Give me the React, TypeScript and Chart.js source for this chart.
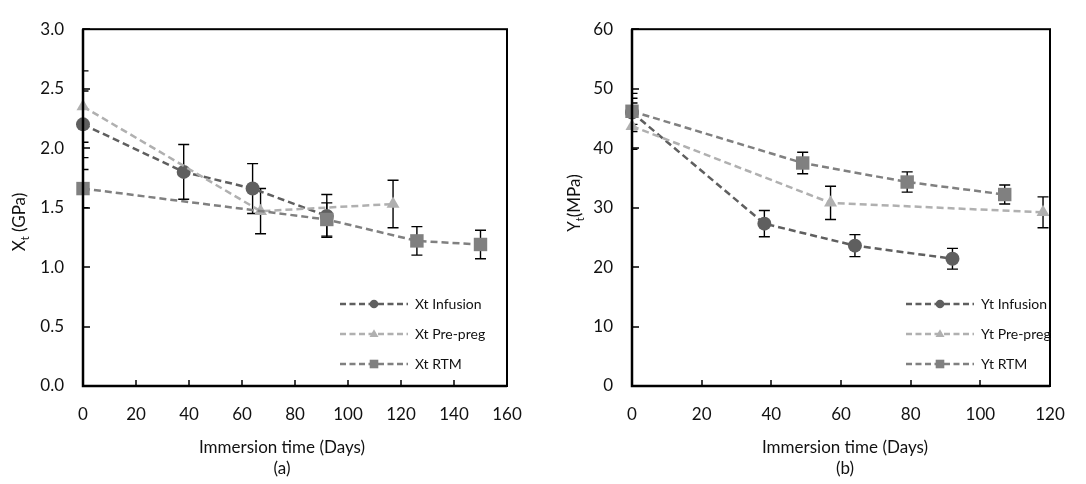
import React, { useEffect, useRef } from "react";
import { Chart, registerables } from "chart.js";

Chart.register(...registerables);

// ---------- Panel (a): Xt (GPa) ----------
const xtInfusionDays = [0, 38, 64, 92];
const xtInfusion = [2.2, 1.8, 1.66, 1.43];
const xtInfusionErr = [0.28, 0.23, 0.21, 0.18];

const xtPrepregDays = [0, 67, 117];
const xtPrepreg = [2.35, 1.47, 1.53];
const xtPrepregErr = [0.3, 0.19, 0.2];

const xtRtmDays = [0, 92, 126, 150];
const xtRtm = [1.66, 1.4, 1.22, 1.19];
const xtRtmErr = [0.16, 0.14, 0.12, 0.12];

const xtTicks = [0, 0.5, 1.0, 1.5, 2.0, 2.5, 3.0];
const xtDayTicks = [0, 20, 40, 60, 80, 100, 120, 140, 160];

// ---------- Panel (b): Yt (MPa) ----------
const ytInfusionDays = [0, 38, 64, 92];
const ytInfusion = [46.0, 27.3, 23.6, 21.4];
const ytInfusionErr = [3.2, 2.2, 1.85, 1.75];

const ytPrepregDays = [0, 57, 118];
const ytPrepreg = [43.7, 30.8, 29.2];
const ytPrepregErr = [3.9, 2.8, 2.6];

const ytRtmDays = [0, 49, 79, 107];
const ytRtm = [46.2, 37.5, 34.3, 32.2];
const ytRtmErr = [2.2, 1.8, 1.7, 1.6];

const ytTicks = [0, 10, 20, 30, 40, 50, 60];
const ytDayTicks = [0, 20, 40, 60, 80, 100, 120];

const xAxisTitle = "Immersion time (Days)";

const FONT = "Lato, 'Open Sans', sans-serif";
const TEXT = "#111";
const C_INF = "#5f5f5f";
const C_PRE = "#b0b0b0";
const C_RTM = "#808080";

type Series = {
  label: string;
  days: number[];
  values: number[];
  errors: number[];
  color: string;
  style: "circle" | "triangle" | "rect";
};

type Panel = {
  series: Series[];
  yTicks: number[];
  xTicks: number[];
  yDecimals: number;
  yTitleMain: string;
  yTitleSub: string;
  yTitleRest: string;
  caption: string;
  // layout
  width: number;
  areaLeft: number;
  areaRight: number;
  yTitleX: number;
  yTitleY: number;
  xTitleX: number;
  legendX: number;
};

const panels: Panel[] = [
  {
    series: [
      { label: "Xt Infusion", days: xtInfusionDays, values: xtInfusion, errors: xtInfusionErr, color: C_INF, style: "circle" },
      { label: "Xt Pre-preg", days: xtPrepregDays, values: xtPrepreg, errors: xtPrepregErr, color: C_PRE, style: "triangle" },
      { label: "Xt RTM", days: xtRtmDays, values: xtRtm, errors: xtRtmErr, color: C_RTM, style: "rect" },
    ],
    yTicks: xtTicks,
    xTicks: xtDayTicks,
    yDecimals: 1,
    yTitleMain: "X",
    yTitleSub: "t",
    yTitleRest: " (GPa)",
    caption: "(a)",
    width: 543,
    areaLeft: 83,
    areaRight: 507,
    yTitleX: 20,
    yTitleY: 222,
    xTitleX: 282,
    legendX: 340,
  },
  {
    series: [
      { label: "Yt Infusion", days: ytInfusionDays, values: ytInfusion, errors: ytInfusionErr, color: C_INF, style: "circle" },
      { label: "Yt Pre-preg", days: ytPrepregDays, values: ytPrepreg, errors: ytPrepregErr, color: C_PRE, style: "triangle" },
      { label: "Yt RTM", days: ytRtmDays, values: ytRtm, errors: ytRtmErr, color: C_RTM, style: "rect" },
    ],
    yTicks: ytTicks,
    xTicks: ytDayTicks,
    yDecimals: 0,
    yTitleMain: "Y",
    yTitleSub: "t",
    yTitleRest: "(MPa)",
    caption: "(b)",
    width: 543,
    areaLeft: 89,
    areaRight: 507,
    yTitleX: 32,
    yTitleY: 203,
    xTitleX: 302,
    legendX: 363,
  },
];

const H = 484;
const AREA_TOP = 16;
const AREA_BOTTOM = 386;

function drawMarker(ctx: CanvasRenderingContext2D, style: string, x: number, y: number, r: number, color: string) {
  ctx.save();
  ctx.fillStyle = color;
  ctx.beginPath();
  if (style === "circle") {
    ctx.arc(x, y, r, 0, Math.PI * 2);
  } else if (style === "triangle") {
    const h = r * 1.8;
    const w = r * 2.1;
    ctx.moveTo(x, y - h * 0.6);
    ctx.lineTo(x + w / 2, y + h * 0.4);
    ctx.lineTo(x - w / 2, y + h * 0.4);
    ctx.closePath();
  } else {
    ctx.rect(x - r, y - r, 2 * r, 2 * r);
  }
  ctx.fill();
  ctx.restore();
}

function PanelChart({ panel }: { panel: Panel }) {
  const ref = useRef<HTMLCanvasElement>(null);

  useEffect(() => {
    const canvas = ref.current;
    if (!canvas) return;

    const plugin = {
      id: "panelDecor",
      beforeDatasetsDraw(chart: any) {
        const { ctx, chartArea: a } = chart;
        const xs = chart.scales.x;
        const ys = chart.scales.y;
        ctx.save();
        ctx.beginPath();
        ctx.rect(a.left, a.top, a.right - a.left, a.bottom - a.top);
        ctx.clip();
        ctx.strokeStyle = "#000";
        ctx.lineWidth = 1.4;
        panel.series.forEach((s) => {
          s.days.forEach((d, i) => {
            const x = xs.getPixelForValue(d);
            const y1 = ys.getPixelForValue(s.values[i] + s.errors[i]);
            const y2 = ys.getPixelForValue(s.values[i] - s.errors[i]);
            ctx.beginPath();
            ctx.moveTo(x, y1);
            ctx.lineTo(x, y2);
            ctx.moveTo(x - 5.5, y1);
            ctx.lineTo(x + 5.5, y1);
            ctx.moveTo(x - 5.5, y2);
            ctx.lineTo(x + 5.5, y2);
            ctx.stroke();
          });
        });
        ctx.restore();
      },
      afterDraw(chart: any) {
        const { ctx, chartArea: a } = chart;
        const xs = chart.scales.x;
        const ys = chart.scales.y;
        ctx.save();
        // frame
        ctx.strokeStyle = "#000";
        ctx.lineWidth = 2;
        ctx.strokeRect(a.left, a.top, a.right - a.left, a.bottom - a.top);
        ctx.lineWidth = 2.5;
        ctx.beginPath();
        ctx.moveTo(a.left, a.top);
        ctx.lineTo(a.left, a.bottom);
        ctx.lineTo(a.right, a.bottom);
        ctx.stroke();
        // inward ticks
        ctx.lineWidth = 1.5;
        ctx.beginPath();
        ys.ticks.forEach((t: any) => {
          const y = Math.round(ys.getPixelForValue(t.value));
          ctx.moveTo(a.left, y);
          ctx.lineTo(a.left + 7, y);
        });
        xs.ticks.forEach((t: any) => {
          const x = Math.round(xs.getPixelForValue(t.value));
          ctx.moveTo(x, a.bottom);
          ctx.lineTo(x, a.bottom - 6);
        });
        ctx.stroke();

        // x title and caption
        ctx.fillStyle = TEXT;
        ctx.font = `17px ${FONT}`;
        ctx.textAlign = "center";
        ctx.textBaseline = "middle";
        ctx.fillText(xAxisTitle, panel.xTitleX, 448);
        ctx.fillText(panel.caption, panel.xTitleX, 469);

        // y title (rotated, with subscript)
        ctx.save();
        ctx.translate(panel.yTitleX, panel.yTitleY);
        ctx.rotate(-Math.PI / 2);
        ctx.textBaseline = "middle";
        ctx.textAlign = "left";
        const mainFont = `17px ${FONT}`;
        const subFont = `11px ${FONT}`;
        ctx.font = mainFont;
        const w1 = ctx.measureText(panel.yTitleMain).width;
        const w3 = ctx.measureText(panel.yTitleRest).width;
        ctx.font = subFont;
        const w2 = ctx.measureText(panel.yTitleSub).width;
        const total = w1 + w2 + w3;
        let cx = -total / 2;
        ctx.font = mainFont;
        ctx.fillText(panel.yTitleMain, cx, 0);
        cx += w1;
        ctx.font = subFont;
        ctx.fillText(panel.yTitleSub, cx, 5);
        cx += w2;
        ctx.font = mainFont;
        ctx.fillText(panel.yTitleRest, cx, 0);
        ctx.restore();

        // legend
        const rowYs = [304, 334, 364];
        panel.series.forEach((s, i) => {
          const y = rowYs[i];
          const x0 = panel.legendX;
          const x1 = x0 + 68;
          ctx.save();
          ctx.strokeStyle = s.color;
          ctx.lineWidth = 2.5;
          ctx.setLineDash([6, 3.5]);
          ctx.beginPath();
          ctx.moveTo(x0, y);
          ctx.lineTo(x1, y);
          ctx.stroke();
          ctx.restore();
          drawMarker(ctx, s.style, (x0 + x1) / 2, y, 4.3, s.color);
          ctx.fillStyle = TEXT;
          ctx.font = `14px ${FONT}`;
          ctx.textAlign = "left";
          ctx.textBaseline = "middle";
          ctx.fillText(s.label, x1 + 7, y);
        });
        ctx.restore();
      },
    };

    const pointStyleMap: Record<string, string> = { circle: "circle", triangle: "triangle", rect: "rect" };
    const radiusMap: Record<string, number> = { circle: 7, triangle: 7.5, rect: 9.5 };
    const orderMap: Record<string, number> = { circle: 2, triangle: 1, rect: 0 };

    const datasets = panel.series.map((s) => ({
      label: s.label,
      data: s.days.map((d, i) => ({ x: d, y: s.values[i] })),
      borderColor: s.color,
      backgroundColor: s.color,
      pointBackgroundColor: s.color,
      pointBorderColor: s.color,
      pointBorderWidth: 0,
      borderWidth: 2.5,
      borderDash: [7, 4],
      pointStyle: pointStyleMap[s.style],
      pointRadius: radiusMap[s.style],
      pointHoverRadius: radiusMap[s.style],
      showLine: true,
      tension: 0,
      order: orderMap[s.style],
      clip: false as any,
    }));

    const xMin = panel.xTicks[0];
    const xMax = panel.xTicks[panel.xTicks.length - 1];
    const yMin = panel.yTicks[0];
    const yMax = panel.yTicks[panel.yTicks.length - 1];

    const chart = new Chart(canvas, {
      type: "scatter",
      data: { datasets },
      options: {
        responsive: false,
        animation: false,
        events: [],
        layout: { padding: { top: AREA_TOP, right: panel.width - panel.areaRight, left: 0, bottom: 0 } },
        plugins: { legend: { display: false }, tooltip: { enabled: false } },
        scales: {
          x: {
            type: "linear",
            min: xMin,
            max: xMax,
            afterBuildTicks: (scale: any) => {
              scale.ticks = panel.xTicks.map((v) => ({ value: v }));
            },
            afterFit: (scale: any) => {
              scale.height = H - AREA_BOTTOM;
            },
            ticks: {
              color: TEXT,
              font: { family: FONT, size: 17 },
              padding: 18,
              maxRotation: 0,
              callback: (v: any) => String(v),
            },
            grid: { display: false, drawTicks: false },
            border: { display: false },
          },
          y: {
            type: "linear",
            min: yMin,
            max: yMax,
            afterBuildTicks: (scale: any) => {
              scale.ticks = panel.yTicks.map((v) => ({ value: v }));
            },
            afterFit: (scale: any) => {
              scale.width = panel.areaLeft;
            },
            ticks: {
              color: TEXT,
              font: { family: FONT, size: 17 },
              padding: 19,
              callback: (v: any) => Number(v).toFixed(panel.yDecimals),
            },
            grid: { display: false, drawTicks: false },
            border: { display: false },
          },
        },
      },
      plugins: [plugin],
    });

    return () => chart.destroy();
  }, [panel]);

  return <canvas ref={ref} width={panel.width} height={H} style={{ display: "block", width: panel.width, height: H }} />;
}

export default function App() {
  return (
    <div style={{ position: "fixed", left: 0, top: 0, width: 1086, height: H, background: "#fff", display: "flex" }}>
      <PanelChart panel={panels[0]} />
      <PanelChart panel={panels[1]} />
    </div>
  );
}
